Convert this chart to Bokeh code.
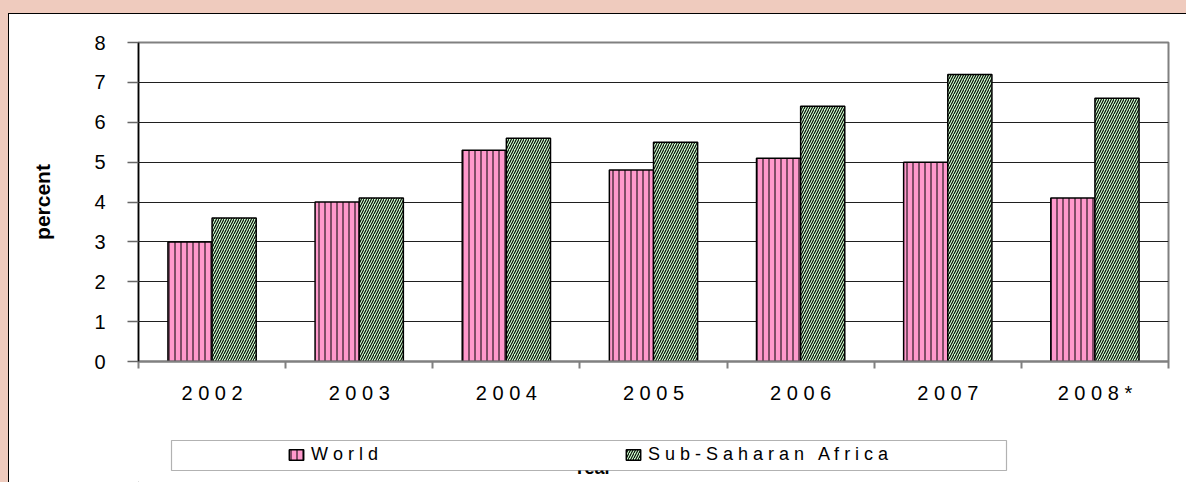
import numpy as np
from bokeh.plotting import figure
from bokeh.layouts import column
from bokeh.models import (Range1d, FixedTicker, Legend, LegendItem, ColumnDataSource,
                          BoxAnnotation, Label)
from bokeh.embed import file_html
from bokeh.resources import INLINE

# ---- data ----
years = ["2002", "2003", "2004", "2005", "2006", "2007", "2008*"]
world = [3.0, 4.0, 5.3, 4.8, 5.1, 5.0, 4.1]
ssa = [3.6, 4.1, 5.6, 5.5, 6.4, 7.2, 6.6]
y_ticks = [0, 1, 2, 3, 4, 5, 6, 7, 8]
series_names = ["World", "Sub-Saharan Africa"]
y_title = "percent"
x_title = "Year"


def spaced(s):
    # the original chart uses wide character spacing
    return " ".join(s).replace("   ", " \u00a0 ")


FONT = "Liberation Sans"
PINK_BG = "#EFCBBE"
WORLD_STYLE = dict(fill_color="#FF99CC", line_color="black", line_width=1.5,
                   hatch_pattern="vertical_line", hatch_color="black",
                   hatch_scale=6, hatch_weight=1)
SSA_STYLE = dict(fill_color="#CCFFCC", line_color="black", line_width=1.5,
                 hatch_pattern="right_diagonal_line", hatch_color="black",
                 hatch_scale=5, hatch_weight=1.1)

centers = np.arange(len(years)) + 0.5
bar_w = 0.3
src = ColumnDataSource(dict(
    xw=centers - bar_w / 2, xs=centers + bar_w / 2, world=world, ssa=ssa))

# ---------------- main chart ----------------
p = figure(width=1177, height=420,
           x_range=Range1d(0, len(years)), y_range=Range1d(y_ticks[0], y_ticks[-1]),
           output_backend="svg", toolbar_location=None,
           min_border_left=129, min_border_right=18,
           min_border_top=28, min_border_bottom=73,
           background_fill_color="white", border_fill_color="white",
           outline_line_color="#808080", outline_line_width=2)

p.vbar(x="xw", width=bar_w, top="world", bottom=0, source=src, **WORLD_STYLE)
p.vbar(x="xs", width=bar_w, top="ssa", bottom=0, source=src, **SSA_STYLE)

yax = p.yaxis[0]
yax.ticker = FixedTicker(ticks=y_ticks)
yax.major_tick_out = 11
yax.major_tick_in = 0
yax.major_tick_line_color = "#666666"
yax.major_tick_line_width = 1.5
yax.axis_line_color = "black"
yax.axis_line_width = 1.5
yax.major_label_standoff = 22
yax.major_label_text_font = FONT
yax.major_label_text_font_size = "20px"
yax.major_label_text_color = "black"
yax.axis_label = y_title
yax.axis_label_text_font = FONT
yax.axis_label_text_font_size = "21px"
yax.axis_label_text_font_style = "bold"
yax.axis_label_text_color = "black"
yax.axis_label_standoff = 37

p.ygrid.ticker = FixedTicker(ticks=y_ticks[1:-1])
p.ygrid.grid_line_color = "#1f1f1f"
p.ygrid.grid_line_width = 1
p.xgrid.visible = False

xax = p.xaxis[0]
xax.ticker = FixedTicker(ticks=list(centers),
                         minor_ticks=list(range(len(years) + 1)))
xax.major_tick_out = 0
xax.major_tick_in = 0
xax.major_tick_line_color = None
xax.minor_tick_out = 7
xax.minor_tick_in = 0
xax.minor_tick_line_color = "#808080"
xax.minor_tick_line_width = 2
xax.axis_line_color = "#808080"
xax.axis_line_width = 2
xax.major_label_overrides = {float(c): spaced(y) for c, y in zip(centers, years)}
xax.major_label_standoff = 13
xax.major_label_text_font = FONT
xax.major_label_text_font_size = "20px"
xax.major_label_text_color = "black"

# ---------------- legend strip ----------------
# 1 data unit = 1 px in this strip
q = figure(width=1177, height=48, x_range=Range1d(0, 1030), y_range=Range1d(0, 48),
           output_backend="svg", toolbar_location=None,
           x_axis_type=None, y_axis_type=None,
           min_border_left=129, min_border_right=18,
           min_border_top=0, min_border_bottom=0,
           background_fill_color="white", border_fill_color="white",
           outline_line_color=None, outline_line_alpha=0, outline_line_width=0)
q.xgrid.visible = False
q.ygrid.visible = False

# proxy glyphs for the legend swatches (one point outside the view)
proxy = ColumnDataSource(dict(x=[-500], top=[0]))
lw = q.vbar(x="x", top="top", width=1, source=proxy, **WORLD_STYLE)
ls = q.vbar(x="x", top="top", width=1, source=proxy, **SSA_STYLE)

# x-axis title, almost fully hidden behind the legend box as in the original
q.add_layout(Label(x=454, y=15, text=x_title, text_align="center",
                   text_baseline="alphabetic", text_font=FONT,
                   text_font_size="18px", text_font_style="bold",
                   text_color="black"))
q.add_layout(BoxAnnotation(left=33, right=868, bottom=12, top=42,
                           fill_color="white", fill_alpha=1,
                           line_color="black", line_width=1.2))

legend = Legend(items=[LegendItem(label=spaced(series_names[0]), renderers=[lw]),
                       LegendItem(label=spaced(series_names[1]), renderers=[ls])],
                location=(149, 17), orientation="horizontal",
                padding=0, margin=0, spacing=246,
                glyph_width=18, glyph_height=13, label_standoff=6, label_height=13,
                label_text_font=FONT, label_text_font_size="18px",
                label_text_color="black",
                border_line_color=None, background_fill_alpha=0)
q.add_layout(legend, "center")

inner = column(p, q, spacing=0,
               styles={"background-color": "white",
                       "border-top": "1px solid black",
                       "border-left": "1px solid black"})
page = column(inner, spacing=0,
              styles={"background-color": PINK_BG, "padding": "13px 0px 0px 8px"})

open("out.html", "w").write(file_html(page, INLINE))
